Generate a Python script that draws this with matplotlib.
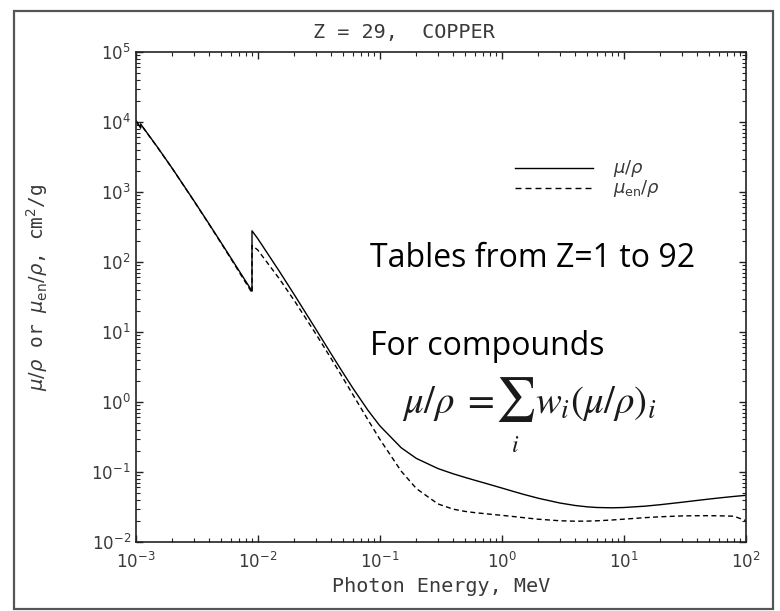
import matplotlib
matplotlib.use('Agg')
import matplotlib.pyplot as plt
from matplotlib.patches import Rectangle
from matplotlib.lines import Line2D
from matplotlib.ticker import NullFormatter

# photon energy (MeV), edges repeated
energy = [1.0e-3, 1.04695e-3, 1.0961e-3, 1.0961e-3, 1.5e-3, 2.0e-3, 3.0e-3, 4.0e-3,
          5.0e-3, 6.0e-3, 8.0e-3, 8.9789e-3, 8.9789e-3, 1.0e-2, 1.5e-2, 2.0e-2,
          3.0e-2, 4.0e-2, 5.0e-2, 6.0e-2, 8.0e-2, 1.0e-1, 1.5e-1, 2.0e-1, 3.0e-1,
          4.0e-1, 5.0e-1, 6.0e-1, 8.0e-1, 1.0, 1.25, 1.5, 2.0, 3.0, 4.0, 5.0, 6.0,
          8.0, 10.0, 15.0, 20.0, 30.0, 40.0, 50.0, 60.0, 80.0, 100.0]
mu_rho = [1.057e4, 9.307e3, 8.242e3, 9.347e3, 4.418e3, 2.154e3, 7.488e2, 3.473e2,
          1.899e2, 1.156e2, 5.255e1, 3.829e1, 2.784e2, 2.159e2, 7.405e1, 3.379e1,
          1.092e1, 4.862, 2.613, 1.593, 7.630e-1, 4.584e-1, 2.217e-1, 1.559e-1,
          1.119e-1, 9.413e-2, 8.362e-2, 7.625e-2, 6.605e-2, 5.901e-2, 5.261e-2,
          4.803e-2, 4.205e-2, 3.599e-2, 3.318e-2, 3.177e-2, 3.108e-2, 3.074e-2,
          3.103e-2, 3.247e-2, 3.408e-2, 3.691e-2, 3.918e-2, 4.098e-2, 4.246e-2,
          4.470e-2, 4.631e-2]
mu_en_rho = [1.049e4, 9.241e3, 8.186e3, 9.282e3, 4.393e3, 2.142e3, 7.430e2, 3.432e2,
             1.866e2, 1.128e2, 5.014e1, 3.616e1, 1.723e2, 1.484e2, 5.788e1, 2.788e1,
             9.349, 4.163, 2.192, 1.290, 5.581e-1, 2.949e-1, 1.027e-1, 5.781e-2,
             3.495e-2, 2.942e-2, 2.732e-2, 2.623e-2, 2.494e-2, 2.402e-2, 2.307e-2,
             2.226e-2, 2.112e-2, 2.008e-2, 1.980e-2, 1.985e-2, 2.005e-2, 2.058e-2,
             2.116e-2, 2.225e-2, 2.290e-2, 2.353e-2, 2.370e-2, 2.373e-2, 2.364e-2,
             2.334e-2, 2.020e-2]

x_ticks = [1e-3, 1e-2, 1e-1, 1e0, 1e1, 1e2]
y_ticks = [1e-2, 1e-1, 1e0, 1e1, 1e2, 1e3, 1e4, 1e5]
legend_labels = [r'$\mu/\rho$', r'$\mu_{\rm en}/\rho$']

plt.rcParams['mathtext.fontset'] = 'dejavusans'
txt = '#3a3a3a'
mono = 'DejaVu Sans Mono'

fig = plt.figure(figsize=(7.8, 6.11), dpi=100)
fig.patches.append(Rectangle((0.018, 0.004), 0.973, 0.978, transform=fig.transFigure,
                             fill=False, edgecolor='#555555', linewidth=1.6))

ax = fig.add_axes([0.174, 0.113, 0.782, 0.802])
ax.plot(energy, mu_rho, color='black', lw=1.0)
ax.plot(energy, mu_en_rho, color='black', lw=1.0, dashes=(3.6, 2.4))
ax.set_xscale('log')
ax.set_yscale('log')
ax.set_xticks(x_ticks)
ax.set_yticks(y_ticks)
ax.set_xlim(1e-3, 1e2)
ax.set_ylim(1e-2, 1e5)
ax.xaxis.set_minor_formatter(NullFormatter())
ax.yaxis.set_minor_formatter(NullFormatter())

for s in ax.spines.values():
    s.set_linewidth(1.2)
    s.set_color('#222222')
ax.tick_params(which='both', direction='in', top=True, right=True,
               colors='#222222', labelcolor=txt, labelsize=12)
ax.tick_params(which='major', length=5, width=1)
ax.tick_params(which='minor', length=3, width=0.8)
ax.tick_params(axis='x', pad=7)

ax.set_xlabel('Photon Energy, MeV', family=mono, fontsize=14.5, color=txt, labelpad=4)
ax.set_ylabel(r'$\mu/\rho$ or $\mu_{\rm en}/\rho$, cm$^2$/g', family=mono,
              fontsize=14, color=txt)
ax.yaxis.set_label_coords(-0.141, 0.52)
fig.text(0.518, 0.946, 'Z = 29,  COPPER', family=mono, fontsize=14.5,
         color=txt, ha='center', va='center')

# legend drawn like the original
for i, (lab, dash) in enumerate(zip(legend_labels, [None, (4.3, 2.9)])):
    y = 0.763 - i * 0.041
    ln = Line2D([0.621, 0.749], [y, y], transform=ax.transAxes, color='black', lw=1.0)
    if dash:
        ln.set_dashes(dash)
    ax.add_line(ln)
    ax.text(0.782, y, lab, transform=ax.transAxes, fontsize=13, color=txt, va='center')

ax.text(0.384, 0.578, 'Tables from Z=1 to 92', transform=ax.transAxes,
        family='Open Sans', fontsize=23, color='black', va='center')
ax.text(0.384, 0.398, 'For compounds', transform=ax.transAxes,
        family='Open Sans', fontsize=23, color='black', va='center')

# formula with a large summation sign
fc = '#1a1a1a'
ax.text(0.588, 0.263, r'$\mu/\rho\;=$', transform=ax.transAxes, fontsize=28,
        color=fc, ha='right', va='baseline', math_fontfamily='stix')
ax.text(0.622, 0.290, r'$\sum$', transform=ax.transAxes, fontsize=32,
        color=fc, ha='center', va='center', math_fontfamily='stix')
ax.text(0.622, 0.198, r'$i$', transform=ax.transAxes, fontsize=17,
        color=fc, ha='center', va='center', math_fontfamily='stix')
ax.text(0.655, 0.263, r'$w_i(\mu/\rho)_i$', transform=ax.transAxes, fontsize=28,
        color=fc, ha='left', va='baseline', math_fontfamily='stix')

fig.savefig('out.png', dpi=100)
